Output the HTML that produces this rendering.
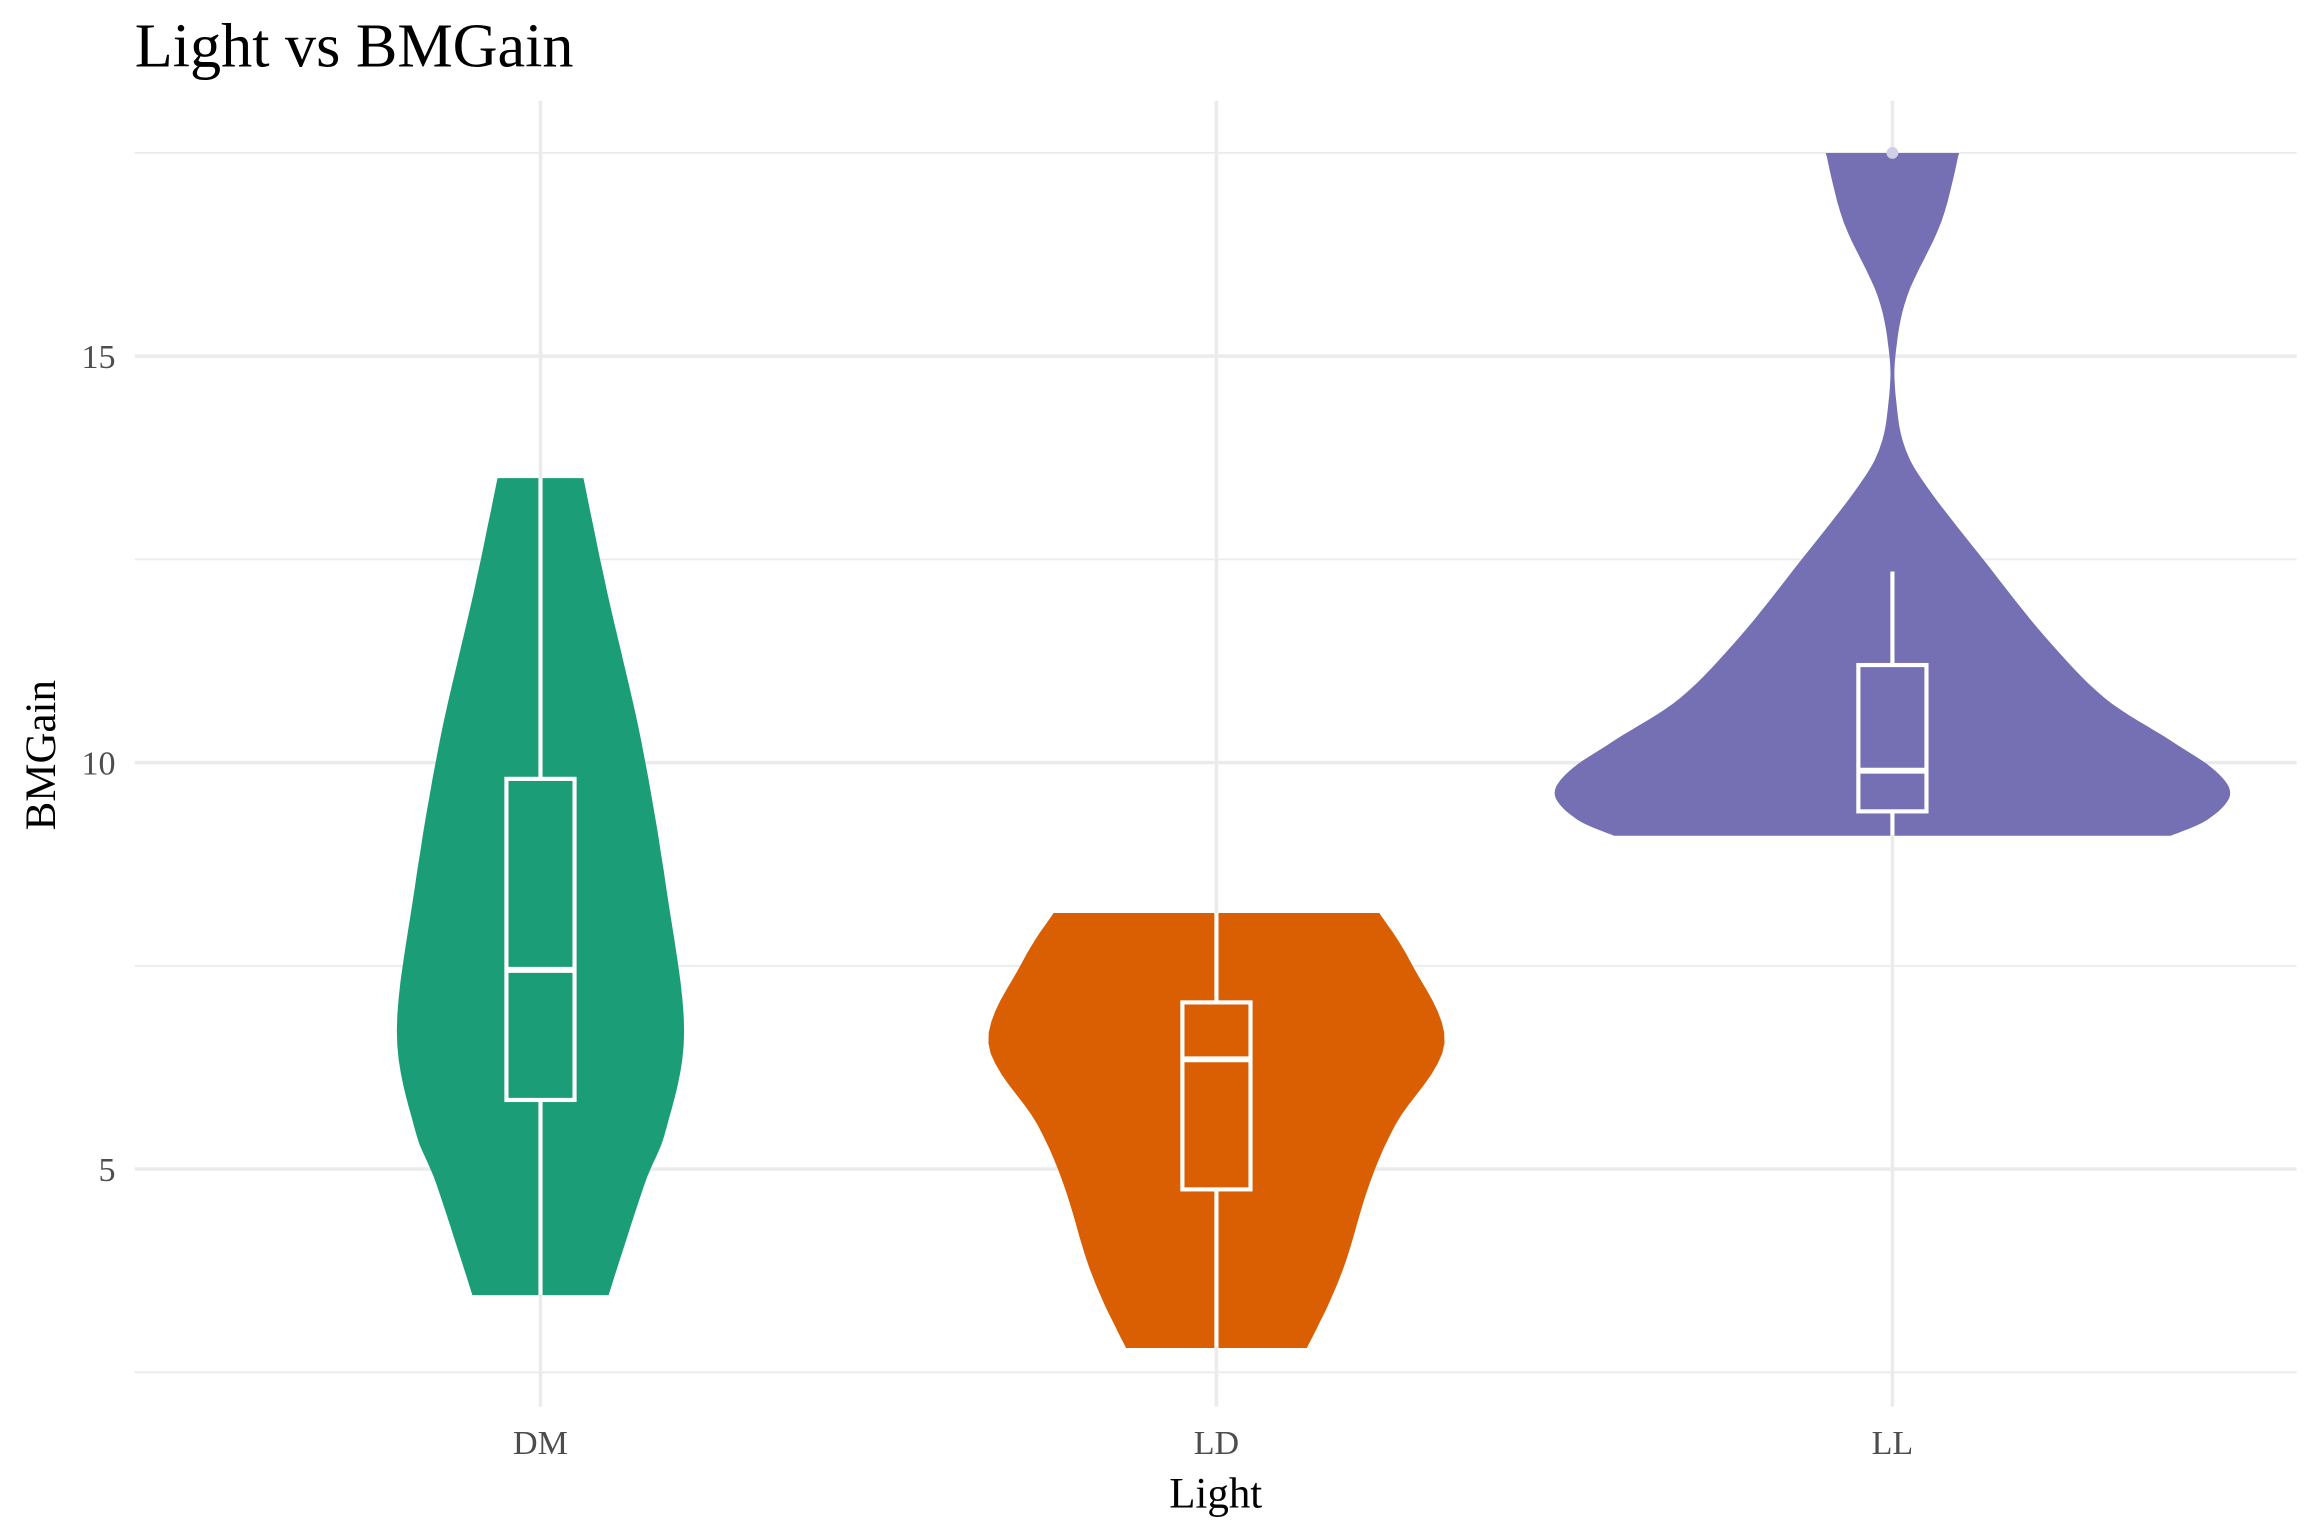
<!DOCTYPE html>
<html><head><meta charset="utf-8"><style>
html,body{margin:0;padding:0;background:#fff}
svg{display:block}
text{font-family:"Liberation Serif",serif}
</style></head><body>
<svg id="chart" width="2310" height="1532" viewBox="0 0 1560 1034.6" xmlns="http://www.w3.org/2000/svg">
<rect width="1560" height="1034.6" fill="#fff"/>
<g id="grid"></g>
<g id="marks"></g>
<g id="labels"></g>
<text x="91" y="45" font-size="42" fill="#000">Light vs BMGain</text>
<text x="821" y="1018" font-size="29" text-anchor="middle" fill="#000">Light</text>
<text transform="translate(37,510) rotate(-90)" font-size="29" text-anchor="middle" fill="#000">BMGain</text>
</svg>
<script>
const categories = ["DM","LD","LL"];
const colors = ["#1b9e77","#d95f02","#7570b3"];
const yMajorTicks = [5,10,15];
const yMinorTicks = [2.5,7.5,12.5,17.5];
// violin profiles: values and half-widths (density scaled)
const dmValues = [13.5,12.1,10.27,8.45,6.7,5.5,4.8,3.45];
const dmWidths = [29,45,68,85,97,85,70,46];
const ldValues = [8.15,7.55,6.55,5.55,4.8,3.9,3.35,2.8];
const ldWidths = [110,131,154,121,103,88,76,61];
const llValues = [17.5,16.65,15.74,15,14.46,13.9,13.4,12.46,11.55,10.8,10.27,9.9,9.6,9.3,9.1];
const llWidths = [45,33,10,2,2.5,8,23,63,103,143,188,218,228,213,188];
// box stats: [min, q1, median, q3, max]
const dmBox = [3.45,5.85,7.45,9.8,13.5];
const ldBox = [2.8,4.75,6.35,7.05,8.15];
const llBox = [9.1,9.4,9.9,11.2,12.35];
const outlierCats = [2];
const outlierVals = [17.5];

const ns="http://www.w3.org/2000/svg";
const xPos = i => 365 + i*456.5;
const yPos = v => 515 - (v-10)*54.9;
function mk(tag, attrs, parent){const e=document.createElementNS(ns,tag);for(const k in attrs)e.setAttribute(k,attrs[k]);parent.appendChild(e);return e;}
const grid=document.getElementById('grid'), marks=document.getElementById('marks'), labels=document.getElementById('labels');
yMinorTicks.forEach(v=>{const l=mk('line',{x1:91,x2:1551,y1:yPos(v),y2:yPos(v),stroke:'#ebebeb','stroke-width':1.2},grid);

});
yMajorTicks.forEach(v=>{const l=mk('line',{x1:91,x2:1551,y1:yPos(v),y2:yPos(v),stroke:'#ebebeb','stroke-width':2.4},grid);


const t=mk('text',{x:78,y:yPos(v)+8,'font-size':23,'text-anchor':'end',fill:'#4d4d4d'},labels);t.textContent=v;

});
categories.forEach((c,i)=>{const l=mk('line',{x1:xPos(i),x2:xPos(i),y1:68,y2:950,stroke:'#ebebeb','stroke-width':2.4},grid);


const t=mk('text',{x:xPos(i),y:982,'font-size':23,'text-anchor':'middle',fill:'#4d4d4d'},labels);t.textContent=c;

});
const profiles=[[dmValues,dmWidths],[ldValues,ldWidths],[llValues,llWidths]];
const boxes=[dmBox,ldBox,llBox];
function smoothPts(vals,wids){const out=[];for(let k=0;k<vals.length-1;k++){const p0=k>0?k-1:k,p3=k+2<vals.length?k+2:k+1;for(let s=0;s<8;s++){const t=s/8;const cr=(a,b,c,d)=>0.5*((2*b)+(-a+c)*t+(2*a-5*b+4*c-d)*t*t+(-a+3*b-3*c+d)*t*t*t);out.push([cr(vals[p0],vals[k],vals[k+1],vals[p3]),Math.max(0,cr(wids[p0],wids[k],wids[k+1],wids[p3]))]);}}out.push([vals[vals.length-1],wids[wids.length-1]]);return out;}
profiles.forEach((p,i)=>{const pts=smoothPts(p[0],p[1]);const cx=xPos(i);
let d='M'+pts.map(q=>(cx+q[1]).toFixed(1)+','+yPos(q[0]).toFixed(1)).join(' L');
d+=' L'+pts.slice().reverse().map(q=>(cx-q[1]).toFixed(1)+','+yPos(q[0]).toFixed(1)).join(' L')+'Z';
const v=mk('path',{d:d,fill:colors[i]},marks);


const b=boxes[i];
const w1=mk('line',{x1:cx,x2:cx,y1:yPos(b[0]),y2:yPos(b[1]),stroke:'#fff','stroke-width':2.8},marks);


const w2=mk('line',{x1:cx,x2:cx,y1:yPos(b[3]),y2:yPos(b[4]),stroke:'#fff','stroke-width':2.8},marks);


const r=mk('rect',{x:cx-23,y:yPos(b[3]),width:46,height:yPos(b[1])-yPos(b[3]),fill:colors[i],stroke:'#fff','stroke-width':2.8},marks);


const m=mk('line',{x1:cx-23,x2:cx+23,y1:yPos(b[2]),y2:yPos(b[2]),stroke:'#fff','stroke-width':4},marks);

});
outlierCats.forEach((c,k)=>{const o=mk('circle',{cx:xPos(c),cy:yPos(outlierVals[k]),r:4,fill:'#d0cfe6'},marks);

});
</script>
</body></html>
